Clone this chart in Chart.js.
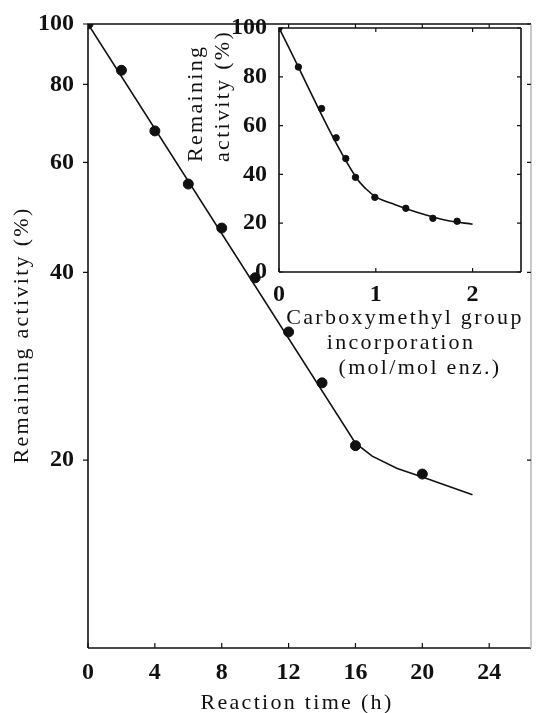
<!DOCTYPE html>
<html>
<head>
<meta charset="utf-8">
<script src="https://cdn.jsdelivr.net/npm/chart.js@4.4.1/dist/chart.umd.min.js"></script>
<style>
  html, body { margin: 0; padding: 0; background: #fff; }
  #wrap { position: relative; width: 537px; height: 713px; }
  #main { position: absolute; left: 0; top: 0; }
  #inset { position: absolute; left: 180px; top: 0; }
</style>
</head>
<body>
<div id="wrap">
  <canvas id="main" width="537" height="713"></canvas>
  <canvas id="inset" width="357" height="400"></canvas>
</div>
<script>
// inactivation vs. reaction time (log scale)
const hours = [0, 2, 4, 6, 8, 10, 12, 14, 16, 20];
const activityByTime = [100, 84.3, 67.4, 55.4, 47.1, 39.2, 32.1, 26.6, 21.1, 19.0];
const fitHours = [0, 16, 17, 18.5, 20, 23];
const fitActivityByTime = [100, 21.3, 20.3, 19.4, 18.8, 17.6];
const hourTicks = [0, 4, 8, 12, 16, 20, 24];
const activityTicks = [20, 40, 60, 80, 100];

// inset: activity vs. carboxymethyl incorporation
const cmGroups = [0, 0.2, 0.44, 0.59, 0.69, 0.79, 0.99, 1.31, 1.59, 1.84];
const activityByCm = [100, 84, 67, 55, 46.5, 38.8, 30.6, 26.1, 22, 20.8];
const fitCm = [0, 0.8, 0.9, 1.0, 1.2, 1.45, 1.75, 2.0];
const fitActivityByCm = [100, 38.5, 34, 30.8, 27.6, 24.2, 21, 19.6];
const cmTicks = [0, 1, 2];
const insetActivityTicks = [0, 20, 40, 60, 80, 100];

const INK = '#111';
const SERIF = '"Liberation Serif", "DejaVu Serif", serif';

const pairs = (xs, ys) => xs.map((x, i) => ({ x, y: ys[i] }));

// box around the plot area plus short tick marks (positive len = inward)
const frame = {
  id: 'frame',
  beforeDatasetsDraw(chart, args, opts) {
    const { ctx, chartArea: a, scales } = chart;
    ctx.save();
    ctx.strokeStyle = INK;
    ctx.lineWidth = opts.lineWidth || 1.6;
    ctx.beginPath();
    ctx.moveTo(a.left, a.bottom); ctx.lineTo(a.left, a.top); ctx.lineTo(a.right, a.top);
    ctx.moveTo(a.left, a.bottom); ctx.lineTo(a.right, a.bottom);
    ctx.stroke();
    ctx.strokeStyle = opts.rightColor || INK;
    ctx.beginPath(); ctx.moveTo(a.right, a.top); ctx.lineTo(a.right, a.bottom); ctx.stroke();
    ctx.strokeStyle = INK;
    ctx.lineWidth = 1.2;
    (opts.marks || []).forEach(m => {
      ctx.beginPath();
      m.values.forEach(v => {
        if (m.side === 'left' || m.side === 'right') {
          const py = scales.y.getPixelForValue(v);
          const x0 = m.side === 'left' ? a.left : a.right;
          const dir = m.side === 'left' ? 1 : -1;
          ctx.moveTo(x0, py); ctx.lineTo(x0 + dir * m.len, py);
        } else {
          const px = scales.x.getPixelForValue(v);
          const y0 = m.side === 'top' ? a.top : a.bottom;
          const dir = m.side === 'top' ? 1 : -1;
          ctx.moveTo(px, y0); ctx.lineTo(px, y0 + dir * m.len);
        }
      });
      ctx.stroke();
    });
    ctx.restore();
  }
};

// axis titles, spaced out like the typeset originals
const titles = {
  id: 'titles',
  afterDraw(chart, args, opts) {
    const { ctx } = chart;
    ctx.save();
    ctx.fillStyle = INK;
    ctx.font = (opts.size || 22) + 'px ' + SERIF;
    ctx.letterSpacing = (opts.spacing || 2.3) + 'px';
    ctx.textBaseline = 'middle';
    opts.items.forEach(t => {
      ctx.save();
      ctx.translate(t.x, t.y);
      if (t.rotate) ctx.rotate(-Math.PI / 2);
      ctx.textAlign = t.align || 'center';
      ctx.fillText(t.text, 0, 0);
      ctx.restore();
    });
    ctx.restore();
  }
};

const tickFont = { family: SERIF, size: 24, weight: 'bold' };

new Chart(document.getElementById('main'), {
  type: 'scatter',
  data: {
    datasets: [
      {
        data: pairs(fitHours, fitActivityByTime),
        showLine: true, borderColor: INK, borderWidth: 1.6,
        pointRadius: 0, tension: 0
      },
      {
        data: pairs(hours, activityByTime),
        backgroundColor: INK, borderColor: INK, pointRadius: 5, pointHoverRadius: 5
      }
    ]
  },
  options: {
    responsive: false,
    animation: false,
    devicePixelRatio: 1,
    layout: { padding: { top: 24, right: 1, left: 0, bottom: 0 } },
    plugins: {
      legend: { display: false },
      tooltip: { enabled: false },
      frame: {
        rightColor: '#bbb',
        marks: [
          { side: 'left', values: activityTicks, len: -5 },
          { side: 'right', values: activityTicks, len: 4 },
          { side: 'bottom', values: hourTicks, len: 5 },
          { side: 'top', values: hourTicks.slice(3), len: 4 }
        ]
      },
      titles: {
        items: [
          { text: 'Reaction time (h)', x: 297, y: 703 },
          { text: 'Remaining activity (%)', x: 22, y: 335, rotate: true }
        ]
      }
    },
    scales: {
      x: {
        type: 'linear', min: 0, max: 26.5,
        grid: { display: false }, border: { display: false },
        afterBuildTicks: s => { s.ticks = hourTicks.map(v => ({ value: v })); },
        afterFit: s => { s.height = 65; },
        ticks: { font: tickFont, color: INK, padding: 2, maxRotation: 0 }
      },
      y: {
        type: 'logarithmic', min: 10, max: 100,
        grid: { display: false }, border: { display: false },
        afterBuildTicks: s => { s.ticks = activityTicks.map(v => ({ value: v })); },
        afterFit: s => { s.width = 88; },
        ticks: { font: tickFont, color: INK, padding: 6, callback: v => String(v) }
      }
    }
  },
  plugins: [frame, titles]
});

new Chart(document.getElementById('inset'), {
  type: 'scatter',
  data: {
    datasets: [
      {
        data: pairs(fitCm, fitActivityByCm),
        showLine: true, borderColor: INK, borderWidth: 1.6,
        pointRadius: 0, cubicInterpolationMode: 'monotone'
      },
      {
        data: pairs(cmGroups, activityByCm),
        backgroundColor: INK, borderColor: INK, pointRadius: 3.2, pointHoverRadius: 3.2
      }
    ]
  },
  options: {
    responsive: false,
    animation: false,
    devicePixelRatio: 1,
    layout: { padding: { top: 28, right: 16, left: 0, bottom: 0 } },
    plugins: {
      legend: { display: false },
      tooltip: { enabled: false },
      frame: {
        marks: [
          { side: 'left', values: insetActivityTicks, len: 4 },
          { side: 'right', values: insetActivityTicks, len: 4 },
          { side: 'bottom', values: cmTicks, len: 4 },
          { side: 'top', values: cmTicks, len: 4 }
        ]
      },
      titles: {
        items: [
          { text: 'Remaining', x: 16, y: 162, rotate: true, align: 'left' },
          { text: 'activity (%)', x: 43, y: 162, rotate: true, align: 'left' },
          { text: 'Carboxymethyl group', x: 225, y: 318 },
          { text: 'incorporation', x: 221, y: 343 },
          { text: '(mol/mol enz.)', x: 240, y: 368 }
        ]
      }
    },
    scales: {
      x: {
        type: 'linear', min: 0, max: 2.5,
        grid: { display: false }, border: { display: false },
        afterBuildTicks: s => { s.ticks = cmTicks.map(v => ({ value: v })); },
        afterFit: s => { s.height = 128; },
        ticks: { font: tickFont, color: INK, padding: 0, maxRotation: 0 }
      },
      y: {
        type: 'linear', min: 0, max: 100,
        grid: { display: false }, border: { display: false },
        afterBuildTicks: s => { s.ticks = insetActivityTicks.map(v => ({ value: v })); },
        afterFit: s => { s.width = 99; },
        ticks: { font: tickFont, color: INK, padding: 4 }
      }
    }
  },
  plugins: [frame, titles]
});
</script>
</body>
</html>
